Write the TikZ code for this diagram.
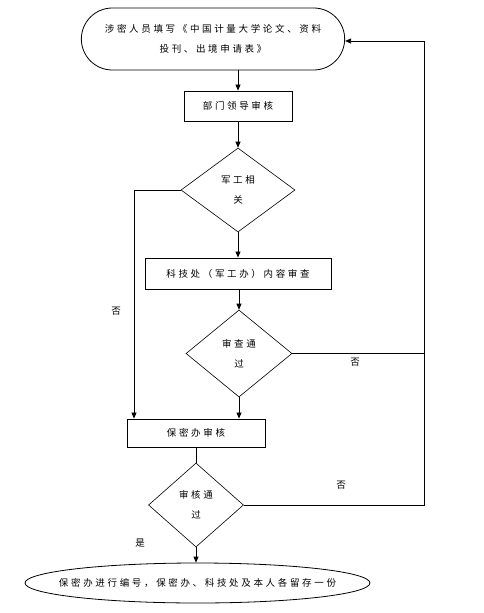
\documentclass[tikz,border=0pt]{standalone}
\usepackage{fontspec}
\newfontfamily\cjkfont[LetterSpace=28]{Noto Sans CJK SC}
\usetikzlibrary{arrows.meta,shapes.geometric,shapes.misc}

\begin{document}
\begin{tikzpicture}[x=1pt,y=-1pt,>={Triangle[length=6pt,width=5pt]},
    every node/.style={font=\cjkfont\fontsize{9.5}{20}\selectfont},
    proc/.style={draw,line width=0.9pt,minimum height=30pt,inner sep=0pt},
    decide/.style={draw,diamond,line width=0.6pt,inner sep=0pt,align=center},
    flow/.style={line width=0.8pt}]
    \useasboundingbox (0,0) rectangle (484,613);
    % nodes
    \node[draw,rounded rectangle,line width=0.8pt,minimum width=270pt,minimum height=62pt,align=center] (apply) at (213,39) {涉密人员填写《中国计量大学论文、资料\\投刊、出境申请表》};
    \node[proc,minimum width=108pt] (dept) at (238,106) {部门领导审核};
    \node[decide,minimum width=114pt,minimum height=84pt] (mil) at (238,190) {军工相\\关};
    \node[proc,minimum width=186pt,minimum height=31pt] (tech) at (238,273.5) {科技处（军工办）内容审查};
    \node[decide,minimum width=106pt,minimum height=87pt] (chk) at (239,353.5) {审查通\\过};
    \node[proc,minimum width=138pt,minimum height=28pt] (sec) at (196,433) {保密办审核};
    \node[decide,minimum width=95pt,minimum height=84pt] (pass) at (196,505) {审核通\\过};
    \node[draw,ellipse,line width=0.8pt,inner sep=0pt,minimum width=345pt,minimum height=40pt] (done) at (197.5,583) {};
    \node (donetext) at (done.center) {保密办进行编号，保密办、科技处及本人各留存一份};
    \coordinate (lft) at (134,190);
    \coordinate (rgt) at (424,41);
    % connectors
    \draw[flow,->] (dept.north |- apply.south) -- (dept.north);
    \draw[flow,->] (dept) -- (mil);
    \draw[flow,->] (mil) -- (tech);
    \draw[flow,->] (tech.south -| chk.north) -- (chk.north);
    \draw[flow,->] (chk.south) -- (chk.south |- sec.north);
    \draw[flow,->] (mil.west) -- (lft) -- (lft |- sec.north);
    \draw[flow] (sec) -- (pass);
    \draw[flow,->] (pass.south) -- (pass.south |- done.north);
    \draw[flow] (chk.east) -- (chk.east -| rgt);
    \draw[flow,->] (pass.east) -- (pass.east -| rgt) -- (rgt) -- (apply.east |- rgt);
    % labels
    \node (no1) at (116,311) {否};
    \node (no2) at (355,362) {否};
    \node (no3) at (341,485) {否};
    \node (yes) at (140,543) {是};
\end{tikzpicture}
\end{document}
